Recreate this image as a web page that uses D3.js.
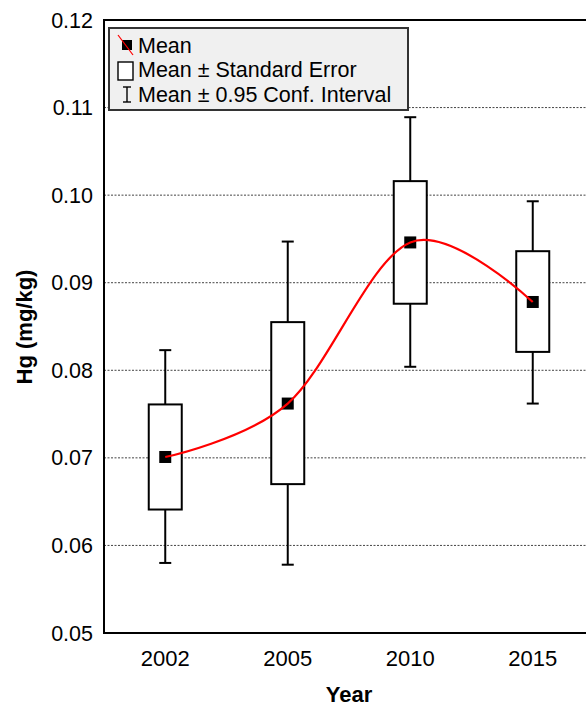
<!DOCTYPE html>
<html>
<head>
<meta charset="utf-8">
<script src="https://cdn.jsdelivr.net/npm/d3@7"></script>
<style>
  body { margin: 0; background: #fff; }
  text { font-family: "Liberation Sans", Arial, sans-serif; }
</style>
</head>
<body>
<div id="chart"></div>
<script>
// Data
const years = ["2002", "2005", "2010", "2015"];
const means = [0.0701, 0.0762, 0.0946, 0.0878];
const seLow = [0.0641, 0.0670, 0.0876, 0.0821];
const seHigh = [0.0761, 0.0855, 0.1016, 0.0936];
const ciLow = [0.0580, 0.0578, 0.0804, 0.0762];
const ciHigh = [0.0823, 0.0947, 0.1089, 0.0993];
const yTicks = [0.05, 0.06, 0.07, 0.08, 0.09, 0.10, 0.11, 0.12];
const legendItems = ["Mean", "Mean \u00b1 Standard Error", "Mean \u00b1 0.95 Conf. Interval"];

const w = 586, h = 709;
const plotL = 104, plotR = 594, plotT = 20, plotB = 633;

const dataset = years.map((yr, i) => ({
  year: yr, mean: means[i], seLow: seLow[i], seHigh: seHigh[i],
  ciLow: ciLow[i], ciHigh: ciHigh[i]
}));

const x = d3.scaleBand().domain(years).range([plotL, plotR]);
const y = d3.scaleLinear().domain([0.05, 0.12]).range([plotB, plotT]);
const cx = (d) => x(d) + x.bandwidth() / 2;

const svg = d3.select("#chart").append("svg")
  .attr("width", w).attr("height", h);

// grid lines
svg.append("g")
  .selectAll("line")
  .data(yTicks.slice(1, -1))
  .enter().append("line")
  .attr("x1", plotL).attr("x2", plotR)
  .attr("y1", (d) => y(d)).attr("y2", (d) => y(d))
  .attr("stroke", "#444").attr("stroke-width", 1)
  .attr("stroke-dasharray", "2,1.5");

// frame
svg.append("rect")
  .attr("x", plotL).attr("y", plotT)
  .attr("width", plotR - plotL).attr("height", plotB - plotT)
  .attr("fill", "none").attr("stroke", "#000").attr("stroke-width", 2);

// y axis labels
svg.append("g")
  .selectAll("text")
  .data(yTicks)
  .enter().append("text")
  .attr("x", plotL - 11).attr("y", (d) => y(d))
  .attr("dy", "0.35em")
  .attr("text-anchor", "end")
  .attr("font-size", 21.5)
  .text((d) => d3.format(".2f")(d));

// x axis labels
svg.append("g")
  .selectAll("text")
  .data(years)
  .enter().append("text")
  .attr("x", (d) => cx(d)).attr("y", 666)
  .attr("text-anchor", "middle")
  .attr("font-size", 22)
  .text((d) => d);

// axis titles
svg.append("text")
  .attr("x", 349).attr("y", 702)
  .attr("text-anchor", "middle")
  .attr("font-size", 22).attr("font-weight", "bold")
  .text("Year");

svg.append("text")
  .attr("transform", "translate(32,327) rotate(-90)")
  .attr("text-anchor", "middle")
  .attr("font-size", 22).attr("font-weight", "bold")
  .text("Hg (mg/kg)");

// whiskers
const g = svg.append("g");
const boxW = 33, capW = 12;

g.selectAll(".whisker")
  .data(dataset)
  .enter().append("line")
  .attr("x1", (d) => cx(d.year)).attr("x2", (d) => cx(d.year))
  .attr("y1", (d) => y(d.ciLow)).attr("y2", (d) => y(d.ciHigh))
  .attr("stroke", "#000").attr("stroke-width", 2);

["ciLow", "ciHigh"].forEach((k) => {
  g.selectAll(".cap-" + k)
    .data(dataset)
    .enter().append("line")
    .attr("x1", (d) => cx(d.year) - capW / 2).attr("x2", (d) => cx(d.year) + capW / 2)
    .attr("y1", (d) => y(d[k])).attr("y2", (d) => y(d[k]))
    .attr("stroke", "#000").attr("stroke-width", 2);
});

// SE boxes
g.selectAll(".box")
  .data(dataset)
  .enter().append("rect")
  .attr("x", (d) => cx(d.year) - boxW / 2)
  .attr("y", (d) => y(d.seHigh))
  .attr("width", boxW)
  .attr("height", (d) => y(d.seLow) - y(d.seHigh))
  .attr("fill", "#fff").attr("stroke", "#000").attr("stroke-width", 2);

// mean markers
g.selectAll(".mean")
  .data(dataset)
  .enter().append("rect")
  .attr("x", (d) => cx(d.year) - 6)
  .attr("y", (d) => y(d.mean) - 6)
  .attr("width", 12).attr("height", 12)
  .attr("fill", "#000");

// smoothed line through means
const line = d3.line()
  .x((d) => cx(d.year))
  .y((d) => y(d.mean))
  .curve(d3.curveCardinal);

svg.append("path")
  .datum(dataset)
  .attr("d", line)
  .attr("fill", "none")
  .attr("stroke", "#f00").attr("stroke-width", 2.2);

// legend
const lg = svg.append("g").attr("transform", "translate(109,28)");
lg.append("rect")
  .attr("width", 299).attr("height", 82)
  .attr("fill", "#f0f0f0").attr("stroke", "#333").attr("stroke-width", 2);

lg.selectAll("text")
  .data(legendItems)
  .enter().append("text")
  .attr("x", 29).attr("y", (d, i) => 17 + i * 24.5)
  .attr("dy", "0.35em")
  .attr("font-size", 21.5)
  .text((d) => d);

// legend symbols
lg.append("rect").attr("x", 13).attr("y", 12).attr("width", 10).attr("height", 10).attr("fill", "#000");
lg.append("line").attr("x1", 9).attr("y1", 7).attr("x2", 24).attr("y2", 27)
  .attr("stroke", "#f00").attr("stroke-width", 1.2);
lg.append("rect").attr("x", 9).attr("y", 34).attr("width", 15).attr("height", 18)
  .attr("fill", "#fff").attr("stroke", "#000").attr("stroke-width", 1.4);
lg.append("line").attr("x1", 18).attr("x2", 18).attr("y1", 59).attr("y2", 74)
  .attr("stroke", "#000").attr("stroke-width", 1.4);
lg.append("line").attr("x1", 14).attr("x2", 22).attr("y1", 59).attr("y2", 59)
  .attr("stroke", "#000").attr("stroke-width", 1.4);
lg.append("line").attr("x1", 14).attr("x2", 22).attr("y1", 74).attr("y2", 74)
  .attr("stroke", "#000").attr("stroke-width", 1.4);
</script>
</body>
</html>
